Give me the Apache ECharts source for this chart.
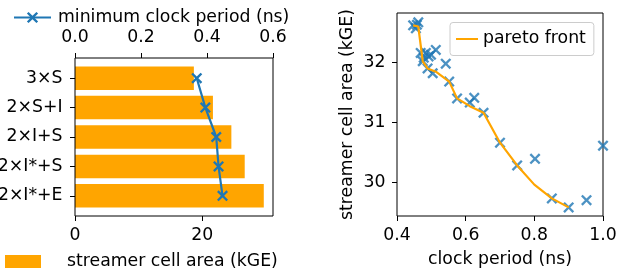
<!DOCTYPE html>
<html>
<head>
<meta charset="UTF-8">
<title>streamer cells</title>
<script src="https://cdn.jsdelivr.net/npm/echarts@6.0.0/dist/echarts.min.js"></script>
<style>
  html, body { margin: 0; padding: 0; background: #fff; }
  #chart { width: 626px; height: 272px; }
</style>
</head>
<body>
<div id="chart"></div>
<script>
// left panel: area per configuration (bars) and min clock period (line, top axis)
var configs = ['3×S', '2×S+I', '2×I+S', '2×I*+S', '2×I*+E'];
var cellArea = [18.7, 21.7, 24.6, 26.7, 29.7];
var minClock = [0.369, 0.395, 0.428, 0.435, 0.447];
var areaTicks = [0, 20];

// right panel: design points [clock period (ns), area (kGE)] and pareto front
var designs = [
    [0.447, 32.62], [0.455, 32.57], [0.462, 32.67], [0.458, 32.63],
    [0.469, 32.16], [0.478, 32.08], [0.484, 32.16], [0.492, 32.10],
    [0.499, 32.13], [0.513, 32.21], [0.475, 32.02], [0.489, 31.90],
    [0.504, 31.82], [0.542, 31.98], [0.552, 31.68], [0.575, 31.40],
    [0.612, 31.33], [0.625, 31.41], [0.652, 31.16], [0.700, 30.66],
    [0.750, 30.28], [0.802, 30.39], [0.851, 29.73], [0.900, 29.58],
    [0.952, 29.70], [1.000, 30.61]
];
var pareto = [
    [0.447, 32.62], [0.462, 32.60], [0.475, 32.02], [0.489, 31.90],
    [0.515, 31.84], [0.552, 31.68], [0.575, 31.40], [0.612, 31.27],
    [0.652, 31.16], [0.700, 30.66], [0.750, 30.28], [0.800, 29.96],
    [0.851, 29.73], [0.900, 29.58]
];
var areaTicksRight = [30, 31, 32];

var blue = '#1f77b4';
var orange = '#ffa500';
var fs = 17.3;
// matplotlib style 'x' marker
var xMark = 'path://M0,1.5L1.5,0L5,3.5L8.5,0L10,1.5L6.5,5L10,8.5L8.5,10L5,6.5L1.5,10L0,8.5L3.5,5Z';

var chart = echarts.init(document.getElementById('chart'));

function fixed1(v) { return v.toFixed(1); }

var tick = { show: true, inside: false, length: 5, lineStyle: { color: '#000', width: 1 } };
var label = { color: '#000', fontSize: fs, fontFamily: 'DejaVu Sans' };

var option = {
    animation: false,
    textStyle: { fontFamily: 'DejaVu Sans', fontSize: fs, color: '#000' },
    grid: [
        // bars live here, slightly inset so categories space like matplotlib
        { left: 75, top: 63.5, width: 198, height: 147, outerBoundsMode: 'none' },
        // frame of left panel
        { left: 75, top: 58, width: 198, height: 158, show: true, borderColor: '#000', borderWidth: 1,
          backgroundColor: 'transparent', outerBoundsMode: 'none', z: 5 },
        // right panel
        { left: 397, top: 13, width: 206, height: 203, show: true, borderColor: '#000', borderWidth: 1,
          backgroundColor: 'transparent', outerBoundsMode: 'none' }
    ],
    legend: [
        {
            data: ['minimum clock period (ns)'],
            left: 13, top: 9, itemWidth: 37, itemHeight: 14, selectedMode: false,
            padding: 0,
            textStyle: { fontSize: fs, color: '#000', fontFamily: 'DejaVu Sans', padding: [0, 0, 0, 2] }
        },
        {
            data: [{ name: 'streamer cell area (kGE)', icon: 'rect' }],
            left: 5, top: 253, itemWidth: 36, itemHeight: 13, selectedMode: false,
            padding: 0,
            textStyle: { fontSize: fs, color: '#000', fontFamily: 'DejaVu Sans', padding: [0, 0, 0, 21] }
        },
        {
            data: ['pareto front'],
            left: 450, top: 22.5, itemWidth: 22, itemHeight: 14, selectedMode: false,
            padding: [8, 8, 8, 5],
            borderColor: '#cccccc', borderWidth: 1, borderRadius: 3,
            backgroundColor: 'rgba(255,255,255,0.8)',
            itemStyle: { opacity: 0 },
            lineStyle: { opacity: 1 },
            textStyle: { fontSize: fs, color: '#000', fontFamily: 'DejaVu Sans' }
        }
    ],
    xAxis: [
        {
            gridIndex: 0, type: 'value', position: 'bottom', offset: 5.5,
            min: 0, max: 31.15,
            axisLine: { show: false },
            axisTick: Object.assign({ customValues: areaTicks }, tick),
            axisLabel: Object.assign({ customValues: areaTicks, margin: 11 }, label),
            splitLine: { show: false }
        },
        {
            gridIndex: 0, type: 'value', position: 'top', offset: 5.5,
            min: 0, max: 0.6, interval: 0.2,
            axisLine: { show: false },
            axisTick: tick,
            axisLabel: Object.assign({ formatter: fixed1, margin: 12 }, label),
            splitLine: { show: false }
        },
        { gridIndex: 1, type: 'value', show: false, min: 0, max: 1 },
        {
            gridIndex: 2, type: 'value', min: 0.4, max: 1.0, interval: 0.2,
            name: 'clock period (ns)', nameLocation: 'middle', nameGap: 35,
            nameTextStyle: { fontSize: fs, color: '#000', fontFamily: 'DejaVu Sans' },
            nameMoveOverlap: false,
            axisLine: { show: false },
            axisTick: tick,
            axisLabel: Object.assign({ formatter: fixed1, margin: 11 }, label),
            splitLine: { show: false }
        }
    ],
    yAxis: [
        {
            gridIndex: 0, type: 'category', data: configs, inverse: true,
            axisLine: { show: false },
            axisTick: Object.assign({ alignWithLabel: true }, tick),
            axisLabel: Object.assign({ margin: 12.5 }, label),
            splitLine: { show: false }
        },
        { gridIndex: 1, type: 'value', show: false, min: 0, max: 1 },
        {
            gridIndex: 2, type: 'value', min: 29.436, max: 32.826,
            name: 'streamer cell area (kGE)', nameLocation: 'middle', nameRotate: 90, nameGap: 41,
            nameTextStyle: { fontSize: fs, color: '#000', fontFamily: 'DejaVu Sans' },
            nameMoveOverlap: false,
            axisLine: { show: false },
            axisTick: Object.assign({ customValues: areaTicksRight }, tick),
            axisLabel: Object.assign({ customValues: areaTicksRight, margin: 11.5 }, label),
            splitLine: { show: false }
        }
    ],
    series: [
        {
            name: 'streamer cell area (kGE)', type: 'bar',
            xAxisIndex: 0, yAxisIndex: 0,
            data: cellArea, barWidth: 23.5,
            itemStyle: { color: orange }
        },
        {
            name: 'minimum clock period (ns)', type: 'line',
            xAxisIndex: 1, yAxisIndex: 0,
            data: minClock,
            symbol: xMark, symbolSize: 11,
            itemStyle: { color: blue },
            lineStyle: { color: blue, width: 2.2 },
            z: 3
        },
        {
            name: 'designs', type: 'scatter',
            xAxisIndex: 3, yAxisIndex: 2,
            data: designs,
            symbol: xMark, symbolSize: 11,
            itemStyle: { color: blue }
        },
        {
            name: 'pareto front', type: 'line',
            xAxisIndex: 3, yAxisIndex: 2,
            data: pareto,
            symbol: 'none',
            itemStyle: { color: orange },
            lineStyle: { color: orange, width: 2.2 },
            z: 4
        }
    ]
};

chart.setOption(option);
</script>
</body>
</html>
